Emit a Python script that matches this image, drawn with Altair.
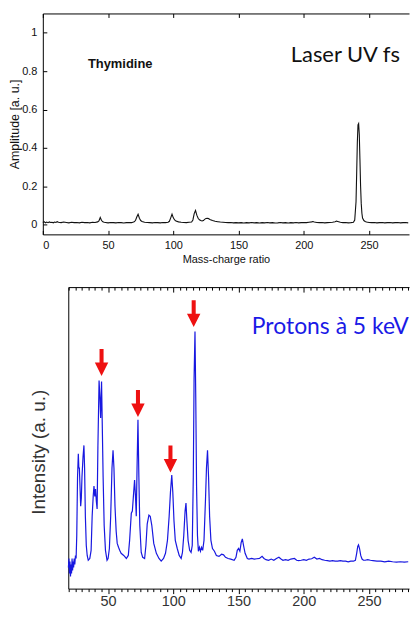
import altair as alt
import pandas as pd

# ---------------- data ----------------
top_mz = [0, 1, 2, 3, 4, 5, 6, 7, 8, 9, 10, 11, 12, 14, 16, 18, 20, 22, 24, 26, 28, 30, 32, 34, 36, 38, 40,
          42, 43, 44, 45, 46, 47, 48, 50, 52, 54, 56, 58, 60, 62, 64, 66, 68, 70, 71, 72, 73, 74, 75, 76, 78,
          80, 82, 84, 86, 88, 90, 92, 94, 96, 97, 98, 99, 100, 101, 102, 104, 106, 108, 110, 112, 114, 115,
          116, 117, 118, 119, 120, 121, 122, 123, 124, 125, 126, 127, 128, 130, 132, 134, 136, 138, 140, 142,
          144, 146, 148, 150, 152, 154, 156, 158, 160, 162, 164, 166, 168, 170, 172, 174, 176, 178, 180, 182,
          184, 186, 188, 190, 192, 194, 196, 198, 200, 202, 204, 206, 207, 208, 210, 212, 214, 216, 218, 220,
          222, 224, 225, 226, 228, 230, 232, 234, 236, 238, 239, 240, 240.5, 241, 241.5, 242, 242.5, 243,
          243.5, 244, 244.5, 245, 246, 247, 248, 250, 252, 254, 256, 258, 260, 262, 264, 266, 268, 270, 272,
          274, 276, 278, 280]
top_amp = [0.012, 0.016, 0.010, 0.014, 0.011, 0.015, 0.012, 0.013, 0.010, 0.014, 0.012, 0.016, 0.013, 0.011,
           0.014, 0.012, 0.010, 0.013, 0.011, 0.012, 0.010, 0.013, 0.011, 0.012, 0.010, 0.013, 0.012,
           0.015, 0.020, 0.038, 0.022, 0.016, 0.013, 0.012, 0.010, 0.012, 0.011, 0.010, 0.012, 0.011, 0.009,
           0.011, 0.012, 0.011, 0.016, 0.022, 0.040, 0.055, 0.034, 0.022, 0.017, 0.013,
           0.012, 0.011, 0.010, 0.012, 0.011, 0.010, 0.012, 0.011, 0.013, 0.018, 0.036, 0.055, 0.036, 0.025,
           0.019, 0.015, 0.013, 0.012, 0.011, 0.013, 0.014, 0.025,
           0.058, 0.075, 0.050, 0.034, 0.026, 0.022, 0.020, 0.022, 0.028, 0.033, 0.034, 0.032, 0.028, 0.022,
           0.018, 0.016, 0.014, 0.013, 0.012, 0.011,
           0.012, 0.010, 0.011, 0.010, 0.011, 0.009, 0.011, 0.010, 0.012, 0.010, 0.011, 0.009, 0.011, 0.010,
           0.012, 0.010, 0.011, 0.009, 0.010, 0.012,
           0.010, 0.011, 0.009, 0.011, 0.010, 0.012, 0.010, 0.011, 0.012, 0.011, 0.013, 0.015, 0.017, 0.014,
           0.012, 0.011, 0.012, 0.010, 0.011, 0.012,
           0.013, 0.016, 0.019, 0.017, 0.013, 0.011, 0.012, 0.010, 0.011, 0.013, 0.025, 0.12, 0.27, 0.43,
           0.52, 0.527, 0.47, 0.34,
           0.20, 0.11, 0.06, 0.035, 0.022, 0.017, 0.014, 0.012, 0.011, 0.012, 0.010, 0.011, 0.012, 0.010,
           0.011, 0.012, 0.010, 0.011, 0.012,
           0.010, 0.011, 0.012, 0.010]

bot_mz = [19.6, 20.0, 20.4, 20.8, 21.2, 21.6, 22.0, 22.4, 22.8, 23.2, 23.6, 24.0, 24.5, 25.0, 25.5,
          26.0, 26.6, 27.2, 27.6, 28.0, 28.4, 29.0, 29.5, 30.0, 30.8, 31.5, 32.0, 32.6, 33.3, 34.0, 34.8,
          36.0, 37.0, 37.8, 38.6, 39.2, 39.8, 40.4, 41.0, 41.6, 42.2, 43.1, 43.8, 44.3, 45.0, 45.6, 46.2,
          47.0, 48.0, 49.2, 50.0, 51.0, 52.0, 53.0, 53.8, 54.5, 55.3, 56.2, 57.0, 58.0, 58.9, 60.0, 62.0,
          64.0, 65.5, 66.5, 67.8, 68.6, 69.4, 70.3, 71.0, 71.6, 72.2, 72.9, 73.6, 74.3, 75.4, 76.5, 78.0,
          79.0, 80.0, 81.3, 82.3, 83.5, 85.0, 87.0, 89.0, 90.7, 92.5, 94.0, 95.5, 96.8, 97.8, 98.8, 99.6,
          100.5, 101.5, 103.0, 104.5, 106.0, 107.0, 108.0, 109.0, 109.7, 110.4, 111.3, 112.5, 113.6, 114.5,
          115.3, 115.9, 116.6, 117.2, 117.8, 118.5, 119.2, 120.0, 120.8, 121.6, 122.5, 123.5, 124.6, 125.4,
          126.2, 127.0, 127.8, 128.8, 130.0, 131.5, 133.0, 135.0, 137.0, 138.5, 140.0, 142.0, 144.0, 146.6,
          148.0, 149.0, 150.0, 151.0, 152.0, 152.9, 153.8, 155.0, 156.7, 158.0, 160.0, 162.0, 164.0, 166.0,
          168.0, 169.5, 171.0, 173.0, 175.0, 177.0, 179.0, 180.9, 182.5, 184.0, 186.0, 188.0, 190.0, 192.8,
          194.5, 196.0, 198.0, 200.0, 202.0, 204.0, 206.0, 208.0, 210.0, 212.0, 214.0, 216.0, 218.0, 220.0,
          222.0, 224.0, 226.0, 228.0, 230.0, 232.0, 234.0, 236.0, 238.0, 239.5, 240.5, 241.3, 241.9, 242.7,
          243.6, 244.6, 245.7, 247.0, 249.0, 251.0, 253.0, 256.0, 259.0, 262.0, 265.0, 268.0, 271.0, 274.0,
          277.0, 280.0]
bot_int = [0.07, 0.10, 0.05, 0.09, 0.04, 0.08, 0.05, 0.10, 0.06, 0.09, 0.07, 0.10, 0.08, 0.11, 0.10,
           0.176, 0.37, 0.447, 0.40, 0.40, 0.35, 0.273, 0.30, 0.37, 0.436, 0.475, 0.40, 0.24, 0.143, 0.11, 0.094,
           0.10, 0.127, 0.24, 0.306, 0.34, 0.306, 0.33, 0.29, 0.264, 0.47, 0.69, 0.63, 0.566, 0.687, 0.53, 0.37,
           0.21, 0.127, 0.094, 0.10, 0.133, 0.24, 0.40, 0.459, 0.40, 0.273, 0.19, 0.15, 0.137, 0.127, 0.117, 0.11,
           0.10, 0.11, 0.16, 0.25, 0.257, 0.306, 0.36, 0.306, 0.24, 0.40, 0.56, 0.37, 0.21, 0.12, 0.104, 0.10,
           0.143, 0.215, 0.244, 0.24, 0.21, 0.15, 0.117, 0.10, 0.091, 0.10, 0.117, 0.16, 0.24, 0.32, 0.377, 0.32,
           0.225, 0.16, 0.133, 0.11, 0.10, 0.12, 0.176, 0.257, 0.284, 0.225, 0.16, 0.127, 0.12, 0.143,
           0.37, 0.696, 0.853, 0.63, 0.34, 0.176, 0.124, 0.137, 0.124, 0.137, 0.127, 0.16, 0.29, 0.40,
           0.459, 0.37, 0.24, 0.16, 0.133, 0.124, 0.11, 0.107, 0.114, 0.112, 0.104, 0.10, 0.098, 0.094,
           0.104, 0.127, 0.133, 0.124, 0.153, 0.165, 0.143, 0.117, 0.10, 0.098, 0.10, 0.098, 0.099, 0.10,
           0.107, 0.10, 0.096, 0.094, 0.098, 0.094, 0.10, 0.104, 0.098, 0.094, 0.096, 0.094, 0.098, 0.10,
           0.094, 0.093, 0.094, 0.096, 0.094, 0.098, 0.099, 0.104, 0.098, 0.10, 0.096, 0.094, 0.093, 0.091,
           0.093, 0.091, 0.091, 0.093, 0.091, 0.091, 0.089, 0.091, 0.091, 0.094, 0.117, 0.14, 0.145, 0.133,
           0.11, 0.098, 0.094, 0.094, 0.096, 0.094, 0.093, 0.091, 0.091, 0.089, 0.091, 0.089, 0.088, 0.089,
           0.088, 0.089]

arrow_mz = [45.0, 72.9, 97.8, 115.6]
arrow_int = [0.75, 0.614, 0.43, 0.912]

top_xticks = [0, 50, 100, 150, 200, 250]
top_yticks = [0, 0.2, 0.4, 0.6, 0.8, 1.0]
bot_major = [50, 100, 150, 200, 250]
bot_minor = [20, 25, 30, 35, 40, 45, 55, 60, 65, 70, 75, 80, 85, 90, 95, 105, 110, 115, 120, 125, 130,
             135, 140, 145, 155, 160, 165, 170, 175, 180, 185, 190, 195, 205, 210, 215, 220, 225, 230, 235,
             240, 245, 255, 260, 265, 270, 275, 280]

thy_label, thy_mz, thy_amp = "Thymidine", 59.3, 0.836
laser_label, laser_mz, laser_amp = "Laser UV fs", 231.8, 0.882
prot_label, prot_mz, prot_int = "Protons à 5 keV", 220.3, 0.869

FONT = "Liberation Sans"
W = 368
H1, H2 = 222, 303
X_END = 280.6           # right edge of the (cropped) x range
X0_BOT = 19.5           # left edge of the lower panel
BOT_SHIFT = W * X0_BOT / X_END

# ---------------- helpers ----------------
def frame_axis(orient, **kw):
    base = dict(orient=orient, domain=True, domainColor="#000", domainWidth=1, ticks=False,
                labels=False, grid=False, title=None, minExtent=0)
    base.update(kw)
    return alt.Axis(**base)

def tick_axis(orient, values, size, **kw):
    base = dict(orient=orient, values=values, domain=False, ticks=True, tickSize=size, offset=-size,
                tickColor="#000", tickWidth=1, labels=False, grid=False, title=None, minExtent=0)
    base.update(kw)
    return alt.Axis(**base)

# ---------------- top panel ----------------
top_df = pd.DataFrame({"mz": top_mz, "amp": top_amp})
xs1 = alt.Scale(domain=[0, X_END], nice=False, zero=False)
ys1 = alt.Scale(domain=[-0.05, 1.1], nice=False, zero=False)
top_base = alt.Chart(top_df)

t_line = top_base.mark_line(color="#111", strokeWidth=1.1).encode(
    x=alt.X("mz:Q", scale=xs1, axis=tick_axis(
        "bottom", top_xticks, 4, labels=True, labelFont=FONT, labelFontSize=11, labelColor="#111",
        labelPadding=5, title="Mass-charge ratio", titleFont=FONT, titleFontSize=11,
        titleFontWeight="normal", titleColor="#111", titlePadding=3)),
    y=alt.Y("amp:Q", scale=ys1, axis=tick_axis(
        "left", top_yticks, 4, labels=True, labelFont=FONT, labelFontSize=11, labelColor="#111",
        labelPadding=6,
        labelExpr="datum.value == 0 ? '0' : datum.value == 1 ? '1' : format(datum.value, '.1f')",
        title="Amplitude [a. u.]", titleFont=FONT, titleFontSize=12.5, titleFontWeight="normal",
        titleColor="#111", titlePadding=0)),
)
t_frame_bl = top_base.mark_line(opacity=0).encode(
    x=alt.X("mz:Q", scale=xs1, axis=frame_axis("bottom")),
    y=alt.Y("amp:Q", scale=ys1, axis=frame_axis("left")),
)
t_frame_t = top_base.mark_line(opacity=0).encode(
    x=alt.X("mz:Q", scale=xs1, axis=frame_axis("top")),
    y=alt.Y("amp:Q", scale=ys1, axis=None),
)
t_ticks_t = top_base.mark_line(opacity=0).encode(
    x=alt.X("mz:Q", scale=xs1, axis=tick_axis("top", top_xticks, 4)),
    y=alt.Y("amp:Q", scale=ys1, axis=None),
)
t_text1 = alt.Chart(pd.DataFrame({"t": [thy_label], "mz": [thy_mz], "amp": [thy_amp]})).mark_text(
    font=FONT, fontSize=13, fontWeight="bold", color="#111", baseline="middle").encode(
    x=alt.X("mz:Q", scale=xs1, axis=None), y=alt.Y("amp:Q", scale=ys1, axis=None), text="t:N")
t_text2 = alt.Chart(pd.DataFrame({"t": [laser_label], "mz": [laser_mz], "amp": [laser_amp]})).mark_text(
    font="Lato", fontSize=22, color="#111", baseline="middle").encode(
    x=alt.X("mz:Q", scale=xs1, axis=None), y=alt.Y("amp:Q", scale=ys1, axis=None), text="t:N")

top = alt.layer(t_line, t_frame_bl, t_frame_t, t_ticks_t, t_text1, t_text2).resolve_axis(
    x="independent", y="independent").properties(width=W, height=H1)

# ---------------- bottom panel ----------------
bot_df = pd.DataFrame({"mz": bot_mz, "inten": bot_int})
xs2 = alt.Scale(domain=[X0_BOT, X_END], range=[BOT_SHIFT, W], nice=False, zero=False)
ys2 = alt.Scale(domain=[0, 1], nice=False, zero=False)
bot_base = alt.Chart(bot_df)

b_line = bot_base.mark_line(color="#1818e0", strokeWidth=1.2).encode(
    x=alt.X("mz:Q", scale=xs2, axis=alt.Axis(
        orient="bottom", values=bot_major, domain=True, domainColor="#000", ticks=True, tickSize=5,
        tickColor="#000", labels=True, labelFont=FONT, labelFontSize=14.5, labelColor="#333",
        labelPadding=1, grid=False, title=None, minExtent=0)),
    y=alt.Y("inten:Q", scale=ys2, axis=alt.Axis(
        orient="left", offset=-BOT_SHIFT, domain=True, domainColor="#000", ticks=False, labels=False,
        grid=False, minExtent=0, title="Intensity (a. u.)", titleFont=FONT, titleFontSize=19,
        titleFontWeight="normal", titleColor="#333", titlePadding=20, titleY=H2 / 2 + 14)),
)
b_minor_b = bot_base.mark_line(opacity=0).encode(
    x=alt.X("mz:Q", scale=xs2, axis=alt.Axis(
        orient="bottom", values=bot_minor, domain=False, ticks=True, tickSize=3, tickColor="#000",
        labels=False, grid=False, title=None, minExtent=0)),
    y=alt.Y("inten:Q", scale=ys2, axis=None),
)
b_frame_t = bot_base.mark_line(opacity=0).encode(
    x=alt.X("mz:Q", scale=xs2, axis=frame_axis("top")),
    y=alt.Y("inten:Q", scale=ys2, axis=None),
)
b_minor_t = bot_base.mark_line(opacity=0).encode(
    x=alt.X("mz:Q", scale=xs2, axis=tick_axis("top", bot_minor, 3)),
    y=alt.Y("inten:Q", scale=ys2, axis=None),
)
b_major_t = bot_base.mark_line(opacity=0).encode(
    x=alt.X("mz:Q", scale=xs2, axis=tick_axis("top", bot_major, 5)),
    y=alt.Y("inten:Q", scale=ys2, axis=None),
)
arrow_df = pd.DataFrame({"mz": arrow_mz, "inten": arrow_int})
ARROW = "M-0.15,-1L0.15,-1L0.15,0L0.5,0L0,1L-0.5,0L-0.15,0Z"
b_arrows = alt.Chart(arrow_df).mark_point(shape=ARROW, filled=True, size=729, color="#ee1111",
                                          opacity=1, strokeWidth=0).encode(
    x=alt.X("mz:Q", scale=xs2, axis=None), y=alt.Y("inten:Q", scale=ys2, axis=None))
b_text = alt.Chart(pd.DataFrame({"t": [prot_label], "mz": [prot_mz], "inten": [prot_int]})).mark_text(
    font="Lato", fontSize=23, color="#1a1ae6", baseline="middle").encode(
    x=alt.X("mz:Q", scale=xs2, axis=None), y=alt.Y("inten:Q", scale=ys2, axis=None), text="t:N")

bottom = alt.layer(b_line, b_minor_b, b_frame_t, b_minor_t, b_major_t, b_arrows, b_text).resolve_axis(
    x="independent", y="independent").properties(width=W, height=H2)

chart = alt.vconcat(top, bottom, spacing=22).configure_view(stroke=None).properties(
    padding={"left": 0, "top": 3, "right": 0, "bottom": 0})

chart.save("out.html", embed_options={"renderer": "svg", "actions": False})
